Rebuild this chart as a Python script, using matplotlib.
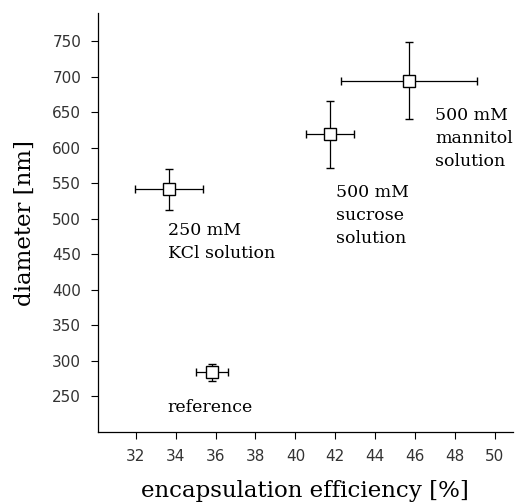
import numpy as np
import matplotlib
matplotlib.use('Agg')
import matplotlib.pyplot as plt

# Values
samples = ['250 mM\nKCl solution', '500 mM\nsucrose\nsolution',
           '500 mM\nmannitol\nsolution', 'reference']
efficiency = [33.65, 41.75, 45.7, 35.8]      # %
efficiency_err = [1.7, 1.2, 3.4, 0.8]
diameter = [542, 619, 695, 284]              # nm
diameter_err = [29, 47, 54, 12]

# label anchor offsets (in data units) relative to each point
label_dx = [-0.05, 0.3, 1.3, -2.2]
label_dy = [-74, -114, -82, -50]

x_ticks = np.arange(32, 51, 2)
y_ticks = np.arange(250, 751, 50)

fig = plt.figure(figsize=(5.18, 5.04), dpi=100)
ax = fig.add_axes([0.189, 0.143, 0.801, 0.831])

ax.errorbar(efficiency, diameter, xerr=efficiency_err, yerr=diameter_err,
            fmt='s', ms=9, mfc='white', mec='black', mew=1.0,
            ecolor='black', elinewidth=0.9, capsize=3, capthick=0.9,
            zorder=3)

for name, x, y, dx, dy in zip(samples, efficiency, diameter, label_dx, label_dy):
    ax.text(x + dx, y + dy, name, family='DejaVu Serif', fontsize=12.5,
            ha='left', va='center', linespacing=1.45)

ax.set_xlim(30.1, 50.9)
ax.set_ylim(200, 790)
ax.set_xticks(x_ticks)
ax.set_yticks(y_ticks)
ax.tick_params(direction='out', length=5, width=0.8, labelsize=11,
               labelcolor='#333333', pad=7)
for side in ['top', 'right']:
    ax.spines[side].set_visible(False)
for side in ['left', 'bottom']:
    ax.spines[side].set_linewidth(0.9)

ax.set_xlabel('encapsulation efficiency [%]', family='DejaVu Serif',
              fontsize=16.5, labelpad=12)
ax.set_ylabel('diameter [nm]', family='DejaVu Serif', fontsize=16.5,
              labelpad=12)

fig.savefig('out.png', dpi=100)
